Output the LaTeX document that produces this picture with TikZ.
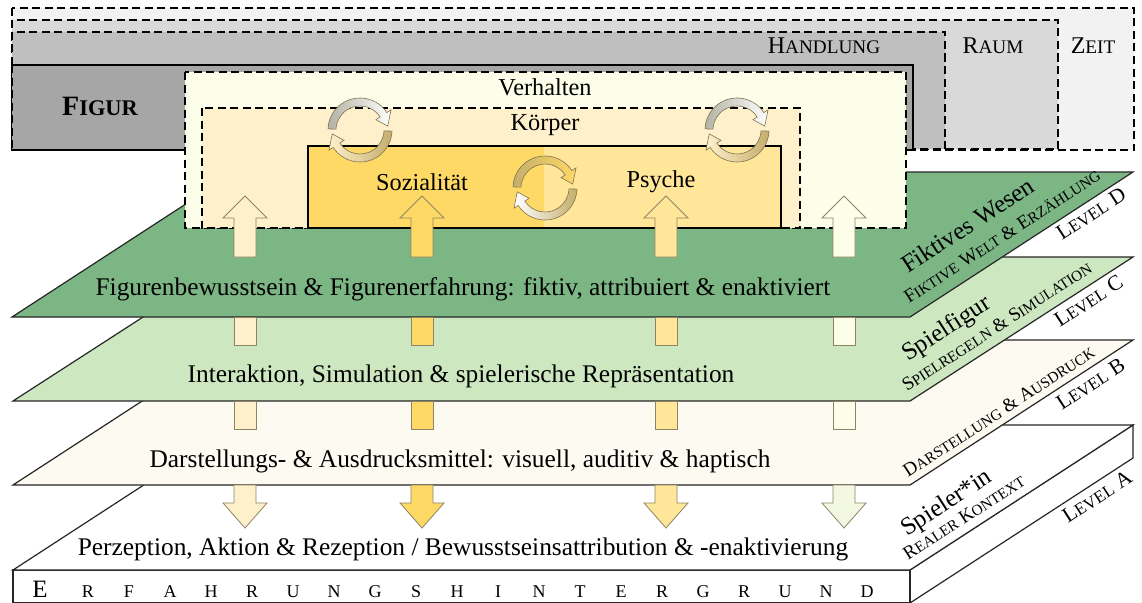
\documentclass[tikz,border=0pt]{standalone}
\usepackage{fontspec}
\setmainfont{Liberation Serif}
\usetikzlibrary{calc}

% fake small caps: capitals at 80 % of the current size
\makeatletter
\newcommand\SC[1]{{\fontsize{\fpeval{0.8*\f@size}}{\f@baselineskip}\selectfont#1}}
\makeatother

\definecolor{zeitgray}{HTML}{F2F2F2}
\definecolor{raumgray}{HTML}{D9D9D9}
\definecolor{handgray}{HTML}{BFBFBF}
\definecolor{figgray}{HTML}{A6A6A6}
\definecolor{verhcol}{HTML}{FDFEEA}
\definecolor{koercol}{HTML}{FFF0CC}
\definecolor{sozcol}{HTML}{FFD966}
\definecolor{psycol}{HTML}{FFE699}
\definecolor{levD}{HTML}{7DB685}
\definecolor{levC}{HTML}{CDE8C1}
\definecolor{levB}{HTML}{FDFBF1}
\definecolor{arrline}{HTML}{8E8463}
\definecolor{greenwhite}{HTML}{F3F8E3}
\definecolor{swirlgray}{HTML}{B2B2A4}
\definecolor{swirltan}{HTML}{C4AE6C}
\definecolor{swirledge}{HTML}{7F7352}

\tikzset{
  dashbox/.style={draw=black, line width=1.4pt, dash pattern=on 8pt off 4.5pt},
  solidbox/.style={draw=black, line width=2pt},
  plane/.style={draw=black!85, line width=1.2pt, line join=miter},
  blockarr/.style={draw=arrline, line width=0.8pt, line join=miter},
  swirlpart/.style={draw=swirledge, line width=0.6pt, line join=miter},
  maintext/.style={font=\fontsize{25.4}{28}\selectfont, anchor=base, inner sep=0pt},
  boxtext/.style={font=\fontsize{24.3}{27}\selectfont, anchor=base, inner sep=0pt},
  toplabel/.style={font=\fontsize{24}{26}\selectfont, anchor=base, inner sep=0pt},
  sidebig/.style={font=\fontsize{25}{27}\selectfont, rotate=33, anchor=base west, inner sep=0pt},
  sidesmall/.style={font=\fontsize{19}{21}\selectfont, rotate=33, anchor=base west, inner sep=0pt},
  levellabel/.style={font=\fontsize{21.5}{23}\selectfont, rotate=33, anchor=base west, inner sep=0pt},
  groundletter/.style={font=\fontsize{18}{20}\selectfont, anchor=base, inner sep=0pt},
  % two curved arrows chasing each other round a circle
  pics/swirl/.style n args={4}{code={
    \begin{scope}[yscale=-1]
      \path[swirlpart, left color=#1, right color=#2]
        (178:32) arc[start angle=178, end angle=33, radius=32] -- (33:37) -- (8:28)
        -- (33:19) -- (33:24) arc[start angle=33, end angle=178, radius=24] -- cycle;
      \path[swirlpart, left color=#3, right color=#4]
        (-2:32) arc[start angle=-2, end angle=-147, radius=32] -- (-147:37) -- (-172:28)
        -- (-147:19) -- (-147:24) arc[start angle=-147, end angle=-2, radius=24] -- cycle;
    \end{scope}
  }},
}

% block arrows: x, tip y, tail y, fill
\newcommand\uparr[4]{\filldraw[blockarr, fill=#4] ({#1-11},#3) -- ({#1-11},{#2+22}) -- ({#1-22},{#2+22}) -- (#1,#2) -- ({#1+22},{#2+22}) -- ({#1+11},{#2+22}) -- ({#1+11},#3) -- cycle;}
% x, tail y, tip y, fill
\newcommand\downarr[4]{\filldraw[blockarr, fill=#4] ({#1-11},#2) -- ({#1-11},{#3-25}) -- ({#1-22},{#3-25}) -- (#1,#3) -- ({#1+22},{#3-25}) -- ({#1+11},{#3-25}) -- ({#1+11},#2) -- cycle;}
\newcommand\shaft[4]{\filldraw[blockarr, fill=#4] ({#1-11},#2) rectangle ({#1+11},#3);}

\begin{document}
\begin{tikzpicture}[x=1pt,y=-1pt]
\useasboundingbox (0,0) rectangle (1142,602);

% ---------- level A: block with front and side face ----------
\filldraw[plane, fill=white] (910,570) -- (1133,425) -- (1133,458) -- (910,603) -- cycle;
\filldraw[plane, fill=white] (13,570) rectangle (910,603);
\filldraw[plane, fill=white] (13,570) -- (910,570) -- (1133,425) -- (236,425) -- cycle;

% ---------- levels B, C, D ----------
\filldraw[plane, fill=levB] (13,485) -- (910,485) -- (1133,340) -- (236,340) -- cycle;
\filldraw[plane, fill=levC] (13,401) -- (910,401) -- (1133,257) -- (236,257) -- cycle;
\filldraw[plane, fill=levD] (12,317) -- (910,317) -- (1133,172) -- (235,172) -- cycle;

% ---------- nested context boxes ----------
\filldraw[dashbox, fill=zeitgray] (12,8) rectangle (1134,150);
\filldraw[dashbox, fill=raumgray] (12,20) rectangle (1058,149);
\filldraw[dashbox, fill=handgray] (12,32) rectangle (945,149);
\fill[figgray] (12,65) rectangle (913,150);
\draw[solidbox, line width=1.8pt] (12,65) -- (913,65) -- (913,150) -- (12,150);
\draw[dashbox] (12,65) -- (12,150);

% ---------- figure boxes ----------
\filldraw[dashbox, fill=verhcol] (185,72) rectangle (906,228);
\filldraw[dashbox, fill=koercol] (202,108) rectangle (800,228);
\fill[sozcol] (308,146) rectangle (544,228);
\fill[psycol] (544,146) rectangle (781,228);
\draw[solidbox] (308,146) rectangle (781,228);

% ---------- feedback loops ----------
\pic (swL) at (360,130) {swirl={swirlgray}{white}{koercol}{swirltan}};
\pic (swR) at (737,130) {swirl={swirlgray}{white}{koercol}{swirltan}};
\pic (swM) at (545,188) {swirl={swirltan}{sozcol}{white}{swirltan}};

% ---------- arrows through the levels ----------
\uparr{245}{196}{257}{koercol}
\uparr{422}{196}{257}{sozcol}
\uparr{666}{196}{257}{psycol}
\uparr{844}{196}{257}{verhcol}

\shaft{245}{317}{345}{koercol}
\shaft{422}{317}{345}{sozcol}
\shaft{666}{317}{345}{psycol}
\shaft{844}{317}{345}{verhcol}

\shaft{245}{401}{429}{koercol}
\shaft{422}{401}{429}{sozcol}
\shaft{666}{401}{429}{psycol}
\shaft{844}{401}{429}{verhcol}

\downarr{245}{485}{528}{koercol}
\downarr{422}{485}{528}{sozcol}
\downarr{666}{485}{528}{psycol}
\downarr{844}{485}{528}{greenwhite}

% ---------- labels of the context boxes ----------
\node[toplabel, font=\bfseries\fontsize{28}{30}\selectfont] (figur) at (100,115) {F\SC{IGUR}};
\node[toplabel] (handlung) at (824,53) {H\SC{ANDLUNG}};
\node[toplabel] (raum) at (993,53) {R\SC{AUM}};
\node[toplabel] (zeit) at (1093,53) {Z\SC{EIT}};

\node[boxtext] (verhalten) at (545,95) {Verhalten};
\node[boxtext] (koerper) at (545,130) {Körper};
\node[boxtext] (sozial) at (422,190) {Sozialität};
\node[boxtext] (psyche) at (661,187) {Psyche};

% ---------- texts on the levels ----------
\node[maintext] (txtD) at (463,295) {Figurenbewusstsein \& Figurenerfahrung: fiktiv, attribuiert \& enaktiviert};
\node[maintext] (txtC) at (461,382) {Interaktion, Simulation \& spielerische Repräsentation};
\node[maintext] (txtB) at (460,467) {Darstellungs- \& Ausdrucksmittel: visuell, auditiv \& haptisch};
\node[maintext] (txtA) at (463,555) {Perzeption, Aktion \& Rezeption / Bewusstseinsattribution \& -enaktivierung};

% ---------- slanted labels at the right edges ----------
\node[sidebig] (wesen) at (908,274) {Fiktives Wesen};
\node[sidesmall] (welt) at (909,304) {F\SC{IKTIVE} W\SC{ELT} \& E\SC{RZÄHLUNG}};
\node[levellabel] (lvD) at (1062,241) {L\SC{EVEL} D};

\node[sidebig] (spielfigur) at (908,362) {Spielfigur};
\node[sidesmall] (regeln) at (907,392) {S\SC{PIELREGELN} \& S\SC{IMULATION}};
\node[levellabel] (lvC) at (1060,328) {L\SC{EVEL} C};

\node[sidesmall] (darst) at (908,478) {D\SC{ARSTELLUNG} \& A\SC{USDRUCK}};
\node[levellabel] (lvB) at (1062,411) {L\SC{EVEL} B};

\node[sidebig] (spieler) at (907,537) {Spieler*in};
\node[sidesmall] (kontext) at (908,561) {R\SC{EALER} K\SC{ONTEXT}};
\node[levellabel] (lvA) at (1068,524) {L\SC{EVEL} A};

% ---------- spaced caption on the front face ----------
\node[groundletter, font=\fontsize{25}{27}\selectfont] (gE) at (40,597) {E};
\foreach \ch [count=\i from 0] in {R,F,A,H,R,U,N,G,S,H,I,N,T,E,R,G,R,U,N,D}
  \node[groundletter] (g\i) at ({88+41*\i},597) {\ch};
\end{tikzpicture}
\end{document}
